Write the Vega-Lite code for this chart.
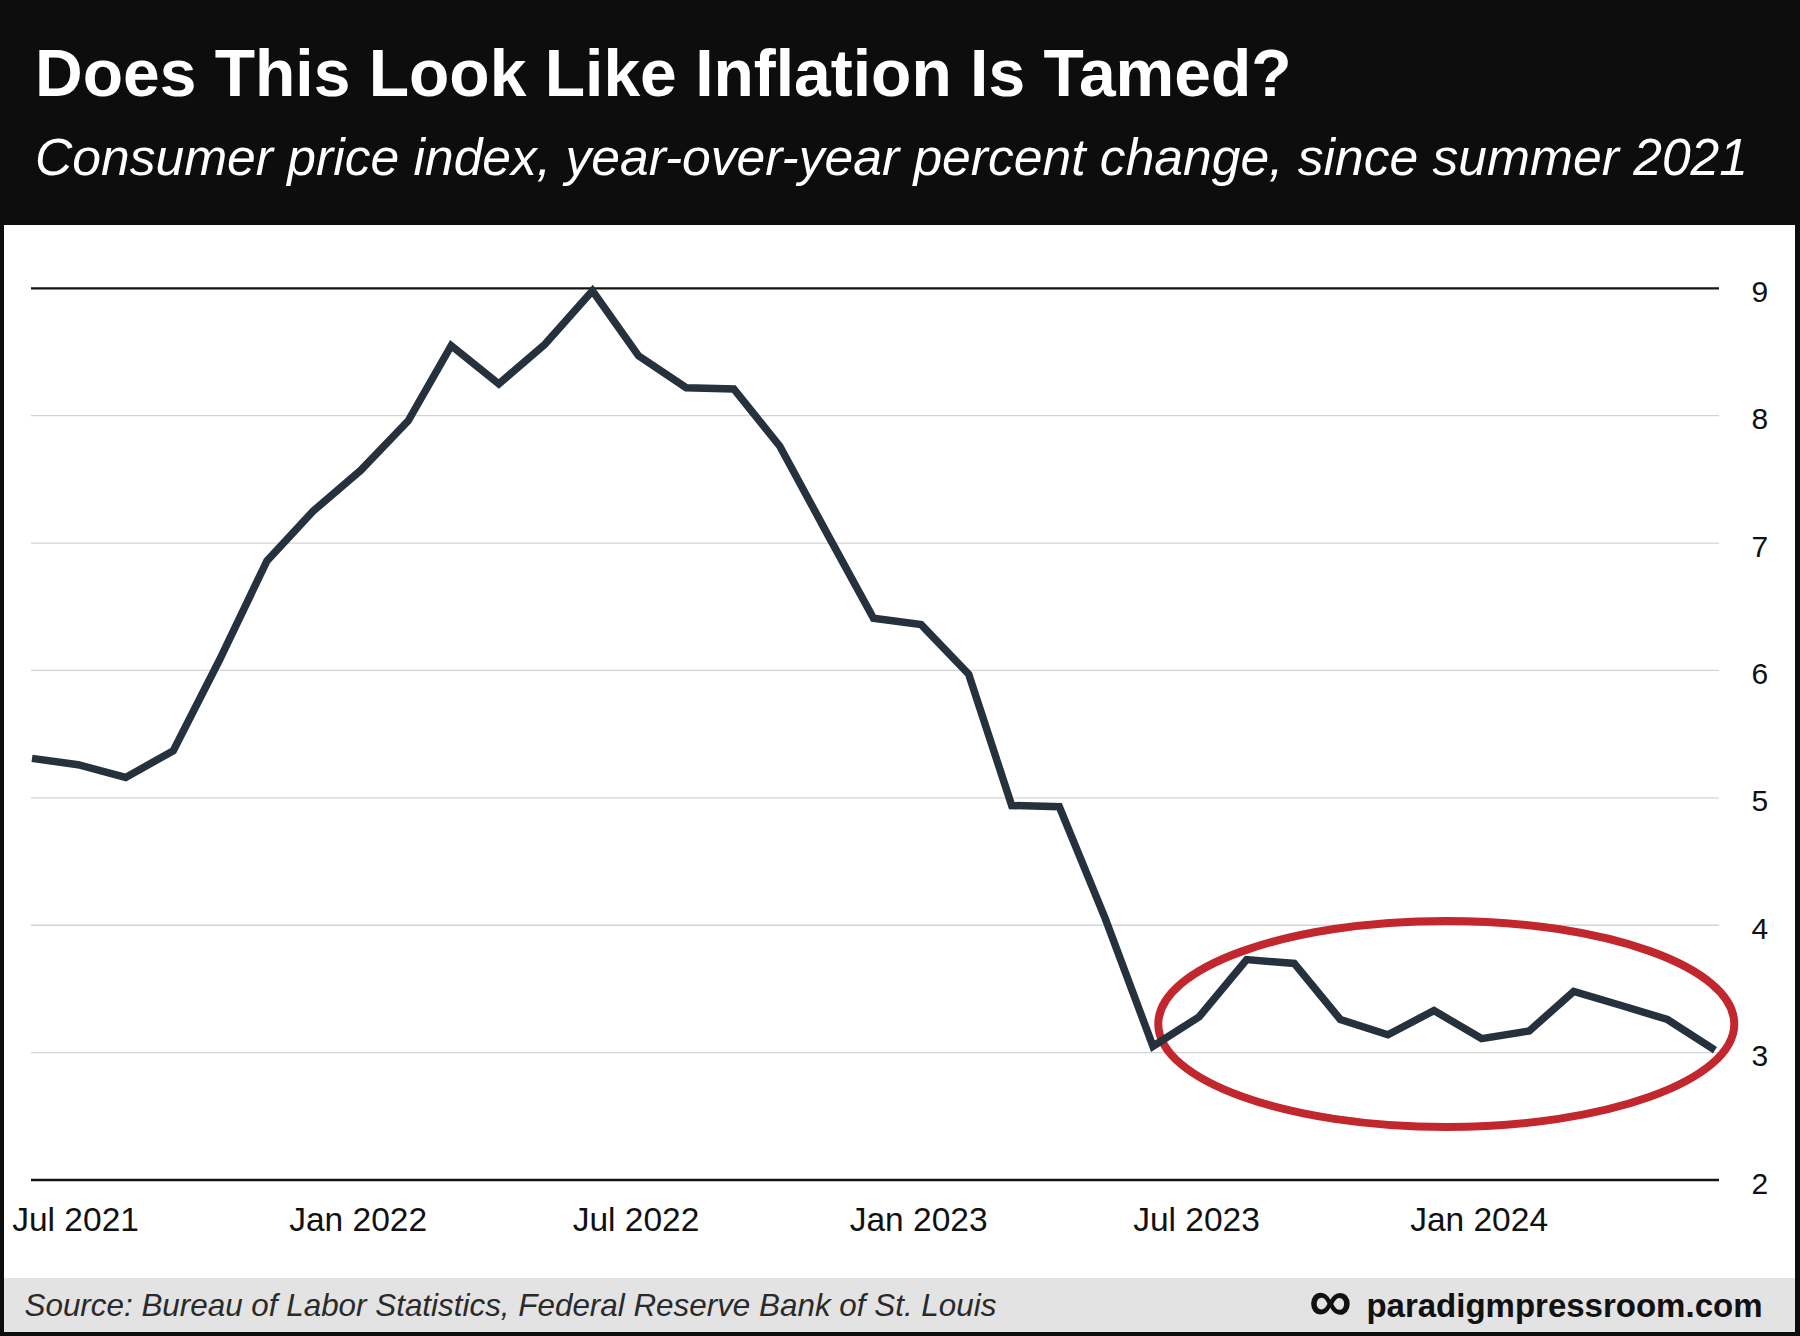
{
  "$schema": "https://vega.github.io/schema/vega-lite/v6.json",
  "background": "#0d0d0d",
  "padding": {"left": 4, "right": 5, "top": 0, "bottom": 4},
  "autosize": {"type": "pad"},
  "spacing": 0,
  "bounds": "flush",
  "config": {"view": {"stroke": null}, "font": "Liberation Sans"},
  "title": {
    "text": "Does This Look Like Inflation Is Tamed?",
    "subtitle": "Consumer price index, year-over-year percent change, since summer 2021",
    "anchor": "start",
    "frame": "group",
    "orient": "top",
    "offset": -187,
    "dx": 31,
    "font": "Liberation Sans",
    "fontSize": 66,
    "fontWeight": "bold",
    "color": "#ffffff",
    "subtitleFont": "Liberation Sans",
    "subtitleFontSize": 51.6,
    "subtitleFontStyle": "italic",
    "subtitleFontWeight": "normal",
    "subtitleColor": "#ffffff",
    "subtitlePadding": 24.5
  },
  "datasets": {
    "cpi": [
      {"date": "2021-06-01", "value": 5.31},
      {"date": "2021-07-01", "value": 5.26},
      {"date": "2021-08-01", "value": 5.16},
      {"date": "2021-09-01", "value": 5.37},
      {"date": "2021-10-01", "value": 6.08},
      {"date": "2021-11-01", "value": 6.86},
      {"date": "2021-12-01", "value": 7.25},
      {"date": "2022-01-01", "value": 7.57},
      {"date": "2022-02-01", "value": 7.96},
      {"date": "2022-03-01", "value": 8.55},
      {"date": "2022-04-01", "value": 8.25},
      {"date": "2022-05-01", "value": 8.56},
      {"date": "2022-06-01", "value": 8.98},
      {"date": "2022-07-01", "value": 8.47},
      {"date": "2022-08-01", "value": 8.22},
      {"date": "2022-09-01", "value": 8.21},
      {"date": "2022-10-01", "value": 7.76},
      {"date": "2022-11-01", "value": 7.07},
      {"date": "2022-12-01", "value": 6.41},
      {"date": "2023-01-01", "value": 6.36},
      {"date": "2023-02-01", "value": 5.97},
      {"date": "2023-03-01", "value": 4.94},
      {"date": "2023-04-01", "value": 4.93},
      {"date": "2023-05-01", "value": 4.05},
      {"date": "2023-06-01", "value": 3.05},
      {"date": "2023-07-01", "value": 3.28},
      {"date": "2023-08-01", "value": 3.73},
      {"date": "2023-09-01", "value": 3.70},
      {"date": "2023-10-01", "value": 3.26},
      {"date": "2023-11-01", "value": 3.14},
      {"date": "2023-12-01", "value": 3.33},
      {"date": "2024-01-01", "value": 3.11},
      {"date": "2024-02-01", "value": 3.17},
      {"date": "2024-03-01", "value": 3.48},
      {"date": "2024-04-01", "value": 3.37},
      {"date": "2024-05-01", "value": 3.26},
      {"date": "2024-06-01", "value": 3.02}
    ],
    "gridlines": [
      {"value": 2}, {"value": 3}, {"value": 4}, {"value": 5},
      {"value": 6}, {"value": 7}, {"value": 8}, {"value": 9}
    ],
    "highlight": [
      {"date": "2023-12-09", "value": 3.225, "note": "recent months"}
    ]
  },
  "vconcat": [
    {
      "width": 1791,
      "height": 225,
      "view": {"fill": "#0d0d0d"},
      "data": {"values": []},
      "mark": "point"
    },
    {
      "width": 1791,
      "height": 1053,
      "view": {"fill": "#ffffff"},
      "layer": [
        {
          "data": {"name": "gridlines"},
          "mark": {"type": "rule"},
          "encoding": {
            "x": {
              "datum": {"year": 2021, "month": 5, "date": 31, "hours": 8, "minutes": 22, "utc": true},
              "type": "temporal", "title": null,
              "scale": {
                "type": "utc",
                "domain": [
                  {"year": 2021, "month": 5, "date": 13, "hours": 18, "minutes": 23, "utc": true},
                  {"year": 2024, "month": 7, "date": 23, "hours": 2, "minutes": 20, "utc": true}
                ]
              },
              "axis": {
                "orient": "bottom",
                "values": [
                  {"year": 2021, "month": 7, "date": 1, "utc": true},
                  {"year": 2022, "month": 1, "date": 1, "utc": true},
                  {"year": 2022, "month": 7, "date": 1, "utc": true},
                  {"year": 2023, "month": 1, "date": 1, "utc": true},
                  {"year": 2023, "month": 7, "date": 1, "utc": true},
                  {"year": 2024, "month": 1, "date": 1, "utc": true}
                ],
                "format": "%b %Y",
                "offset": -48,
                "labelPadding": 0,
                "labelBaseline": "alphabetic",
                "labelAlign": "center",
                "labelOffset": -3,
                "labelFlush": false,
                "labelOverlap": false,
                "labelFont": "Liberation Sans",
                "labelFontSize": 33.5,
                "labelColor": "#111111",
                "ticks": false,
                "domain": false,
                "grid": false
              }
            },
            "x2": {"datum": {"year": 2024, "month": 6, "date": 3, "hours": 14, "minutes": 31, "utc": true}},
            "y": {
              "field": "value", "type": "quantitative", "title": null,
              "scale": {"domain": [1.2307, 9.4969], "nice": false, "zero": false},
              "axis": {
                "orient": "right",
                "values": [2, 3, 4, 5, 6, 7, 8, 9],
                "offset": -44,
                "labelPadding": 0,
                "labelAlign": "left",
                "labelBaseline": "middle",
                "labelOffset": 4,
                "labelFlush": false,
                "labelOverlap": false,
                "labelFont": "Liberation Sans",
                "labelFontSize": 30,
                "labelColor": "#111111",
                "ticks": false,
                "domain": false,
                "grid": false
              }
            },
            "color": {
              "condition": {"test": "datum.value == 2 || datum.value == 9", "value": "#141414"},
              "value": "#d4d4d4"
            },
            "strokeWidth": {
              "condition": {"test": "datum.value == 2 || datum.value == 9", "value": 2.3},
              "value": 1.3
            }
          }
        },
        {
          "data": {"name": "highlight"},
          "mark": {
            "type": "point",
            "shape": "M-1,0C-1,-0.1975,-0.5523,-0.3576,0,-0.3576C0.5523,-0.3576,1,-0.1975,1,0C1,0.1975,0.5523,0.3576,0,0.3576C-0.5523,0.3576,-1,0.1975,-1,0Z",
            "size": 331776,
            "filled": false,
            "strokeWidth": 8,
            "color": "#c1272d",
            "opacity": 1
          },
          "encoding": {
            "x": {
              "field": "date", "type": "temporal", "title": null,
              "scale": {
                "type": "utc",
                "domain": [
                  {"year": 2021, "month": 5, "date": 13, "hours": 18, "minutes": 23, "utc": true},
                  {"year": 2024, "month": 7, "date": 23, "hours": 2, "minutes": 20, "utc": true}
                ]
              },
              "axis": {
                "orient": "bottom",
                "values": [
                  {"year": 2021, "month": 7, "date": 1, "utc": true},
                  {"year": 2022, "month": 1, "date": 1, "utc": true},
                  {"year": 2022, "month": 7, "date": 1, "utc": true},
                  {"year": 2023, "month": 1, "date": 1, "utc": true},
                  {"year": 2023, "month": 7, "date": 1, "utc": true},
                  {"year": 2024, "month": 1, "date": 1, "utc": true}
                ],
                "format": "%b %Y",
                "offset": -48,
                "labelPadding": 0,
                "labelBaseline": "alphabetic",
                "labelAlign": "center",
                "labelOffset": -3,
                "labelFlush": false,
                "labelOverlap": false,
                "labelFont": "Liberation Sans",
                "labelFontSize": 33.5,
                "labelColor": "#111111",
                "ticks": false,
                "domain": false,
                "grid": false
              }
            },
            "y": {
              "field": "value", "type": "quantitative", "title": null,
              "scale": {"domain": [1.2307, 9.4969], "nice": false, "zero": false},
              "axis": {
                "orient": "right",
                "values": [2, 3, 4, 5, 6, 7, 8, 9],
                "offset": -44,
                "labelPadding": 0,
                "labelAlign": "left",
                "labelBaseline": "middle",
                "labelOffset": 4,
                "labelFlush": false,
                "labelOverlap": false,
                "labelFont": "Liberation Sans",
                "labelFontSize": 30,
                "labelColor": "#111111",
                "ticks": false,
                "domain": false,
                "grid": false
              }
            }
          }
        },
        {
          "data": {"name": "cpi"},
          "mark": {"type": "line", "color": "#25313d", "strokeWidth": 7.5, "strokeJoin": "miter", "strokeCap": "butt"},
          "encoding": {
            "x": {
              "field": "date", "type": "temporal", "title": null,
              "scale": {
                "type": "utc",
                "domain": [
                  {"year": 2021, "month": 5, "date": 13, "hours": 18, "minutes": 23, "utc": true},
                  {"year": 2024, "month": 7, "date": 23, "hours": 2, "minutes": 20, "utc": true}
                ]
              },
              "axis": {
                "orient": "bottom",
                "values": [
                  {"year": 2021, "month": 7, "date": 1, "utc": true},
                  {"year": 2022, "month": 1, "date": 1, "utc": true},
                  {"year": 2022, "month": 7, "date": 1, "utc": true},
                  {"year": 2023, "month": 1, "date": 1, "utc": true},
                  {"year": 2023, "month": 7, "date": 1, "utc": true},
                  {"year": 2024, "month": 1, "date": 1, "utc": true}
                ],
                "format": "%b %Y",
                "offset": -48,
                "labelPadding": 0,
                "labelBaseline": "alphabetic",
                "labelAlign": "center",
                "labelOffset": -3,
                "labelFlush": false,
                "labelOverlap": false,
                "labelFont": "Liberation Sans",
                "labelFontSize": 33.5,
                "labelColor": "#111111",
                "ticks": false,
                "domain": false,
                "grid": false
              }
            },
            "y": {
              "field": "value", "type": "quantitative", "title": null,
              "scale": {"domain": [1.2307, 9.4969], "nice": false, "zero": false},
              "axis": {
                "orient": "right",
                "values": [2, 3, 4, 5, 6, 7, 8, 9],
                "offset": -44,
                "labelPadding": 0,
                "labelAlign": "left",
                "labelBaseline": "middle",
                "labelOffset": 4,
                "labelFlush": false,
                "labelOverlap": false,
                "labelFont": "Liberation Sans",
                "labelFontSize": 30,
                "labelColor": "#111111",
                "ticks": false,
                "domain": false,
                "grid": false
              }
            }
          }
        }
      ]
    },
    {
      "width": 1791,
      "height": 54,
      "view": {"fill": "#e3e3e3"},
      "data": {"values": [{"a": 0, "b": 0}]},
      "mark": {"type": "point", "opacity": 0},
      "title": {
        "text": "∞",
        "orient": "top",
        "anchor": "start",
        "frame": "group",
        "dx": 1305,
        "offset": -55.8,
        "font": "Liberation Sans",
        "fontSize": 60,
        "fontWeight": "bold",
        "color": "#111111"
      },
      "encoding": {
        "x": {
          "field": "a", "type": "quantitative",
          "axis": {
            "orient": "top",
            "title": "paradigmpressroom.com",
            "labels": false, "ticks": false, "domain": false, "grid": false,
            "titleX": 1758, "titleY": 38,
            "titleAlign": "right", "titleBaseline": "alphabetic",
            "titleFont": "Liberation Sans", "titleFontSize": 33, "titleFontWeight": "bold",
            "titleColor": "#111111"
          }
        },
        "y": {
          "field": "b", "type": "quantitative",
          "axis": {
            "orient": "left",
            "title": "Source: Bureau of Labor Statistics, Federal Reserve Bank of St. Louis",
            "labels": false, "ticks": false, "domain": false, "grid": false,
            "titleAngle": 0, "titleX": 20, "titleY": 37,
            "titleAlign": "left", "titleBaseline": "alphabetic",
            "titleFont": "Liberation Sans", "titleFontSize": 31.4, "titleFontStyle": "italic", "titleFontWeight": "normal",
            "titleColor": "#2a2a2a"
          }
        }
      }
    }
  ]
}
